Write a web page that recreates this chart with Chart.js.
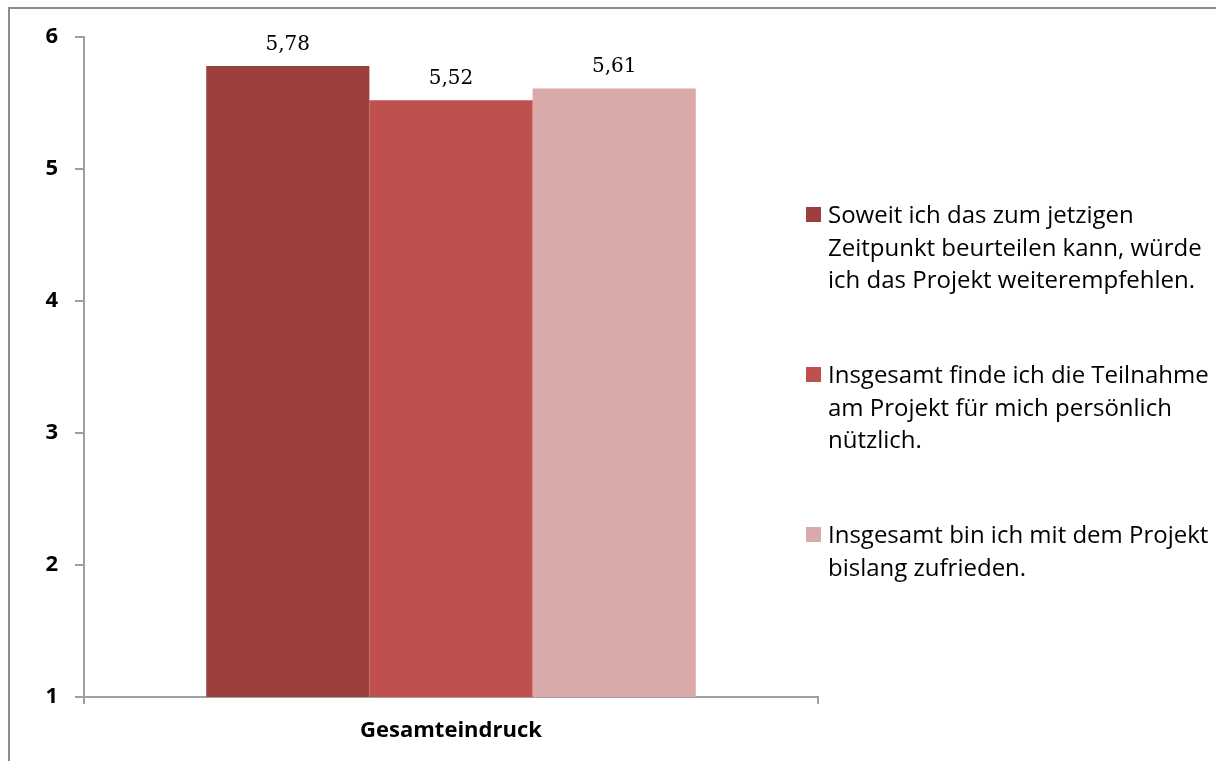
<!DOCTYPE html>
<html>
<head>
<meta charset="utf-8">
<script src="https://cdn.jsdelivr.net/npm/chart.js@4/dist/chart.umd.min.js"></script>
<style>
  html, body { margin: 0; padding: 0; background: #fff; }
  canvas { display: block; }
</style>
</head>
<body>
<canvas id="chart" width="1216" height="761"></canvas>
<script>
// ── DATA ─────────────────────────────────────────────────
const categories = ['Gesamteindruck'];
const seriesNames = [
  ['Soweit ich das zum jetzigen', 'Zeitpunkt beurteilen kann, würde', 'ich das Projekt weiterempfehlen.'],
  ['Insgesamt finde ich die Teilnahme', 'am Projekt für mich persönlich', 'nützlich.'],
  ['Insgesamt bin ich mit dem Projekt', 'bislang zufrieden.']
];
const weiterempfehlen = [5.78];
const nuetzlich = [5.52];
const zufrieden = [5.61];
const yTicks = [1, 2, 3, 4, 5, 6];

const colors = ['#9D403D', '#C0504D', '#D9AAA9'];
const axisGray = '#a0a0a0';

// ── PLUGINS ──────────────────────────────────────────────
// outer frame (only top + left edge visible in the picture)
const framePlugin = {
  id: 'frame',
  beforeDraw(chart) {
    const c = chart.ctx;
    c.save();
    c.strokeStyle = '#8c8c8c';
    c.lineWidth = 2;
    c.beginPath();
    c.moveTo(9, 761);
    c.lineTo(9, 8);
    c.lineTo(1216, 8);
    c.stroke();
    c.restore();
  }
};

// value labels above bars, german decimal comma
const valueLabels = {
  id: 'valueLabels',
  afterDatasetsDraw(chart) {
    const c = chart.ctx;
    c.save();
    c.font = '20px "DejaVu Serif", serif';
    c.fillStyle = '#000';
    c.textAlign = 'center';
    c.textBaseline = 'alphabetic';
    chart.data.datasets.forEach((ds, i) => {
      chart.getDatasetMeta(i).data.forEach((bar, j) => {
        const txt = ds.data[j].toFixed(2).replace('.', ',');
        c.fillText(txt, bar.x, bar.y - 16);
      });
    });
    c.restore();
  }
};

// multi-line legend on the right
const wrapLegend = {
  id: 'wrapLegend',
  afterDraw(chart) {
    const c = chart.ctx;
    c.save();
    c.font = '24px "Open Sans", sans-serif';
    c.textAlign = 'left';
    c.textBaseline = 'alphabetic';
    chart.data.datasets.forEach((ds, i) => {
      const base = 223 + i * 160;
      c.fillStyle = ds.backgroundColor;
      c.fillRect(806, base - 16, 15, 15);
      c.fillStyle = '#000';
      seriesNames[i].forEach((line, k) => {
        c.fillText(line, 828, base + k * 32.5);
      });
    });
    c.restore();
  }
};

// ── CHART ────────────────────────────────────────────────
new Chart(document.getElementById('chart'), {
  type: 'bar',
  data: {
    labels: categories,
    datasets: [
      { label: seriesNames[0].join(' '), data: weiterempfehlen, backgroundColor: colors[0] },
      { label: seriesNames[1].join(' '), data: nuetzlich, backgroundColor: colors[1] },
      { label: seriesNames[2].join(' '), data: zufrieden, backgroundColor: colors[2] }
    ]
  },
  options: {
    responsive: false,
    animation: false,
    layout: { padding: { top: 37, right: 398, bottom: 0, left: 0 } },
    datasets: { bar: { categoryPercentage: 0.667, barPercentage: 1.0, borderWidth: 0 } },
    plugins: {
      legend: { display: false },
      tooltip: { enabled: false }
    },
    scales: {
      x: {
        grid: { offset: true, drawOnChartArea: false, tickLength: 7, color: axisGray, lineWidth: 2 },
        border: { color: axisGray, width: 2 },
        ticks: {
          color: '#000',
          padding: 14,
          font: { family: 'Open Sans', size: 22, weight: 'bold' }
        },
        afterFit: s => { s.height = 64; }
      },
      y: {
        min: 1,
        max: 6,
        afterBuildTicks: s => { s.ticks = yTicks.map(v => ({ value: v })); },
        grid: { drawOnChartArea: false, tickLength: 9, color: axisGray, lineWidth: 2 },
        border: { color: axisGray, width: 2 },
        ticks: {
          color: '#000',
          padding: 17,
          font: { family: 'Open Sans', size: 22, weight: 'bold' }
        },
        afterFit: s => { s.width = 84; }
      }
    }
  },
  plugins: [framePlugin, valueLabels, wrapLegend]
});
</script>
</body>
</html>
